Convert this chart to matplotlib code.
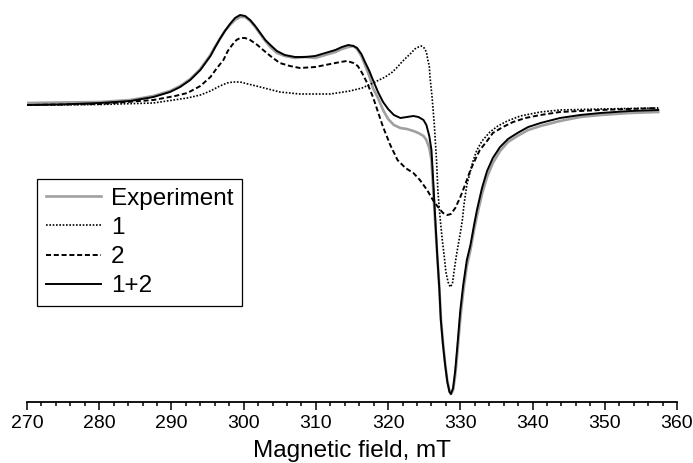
import matplotlib
matplotlib.use('Agg')
import matplotlib.pyplot as plt
from matplotlib.ticker import MultipleLocator

plt.rcParams['font.family'] = ['Liberation Sans', 'DejaVu Sans']

# Magnetic field (mT) and signal (arbitrary units)
field_fit = [270.0, 274.6, 280.1, 284.3, 287.5, 289.8, 291.2, 292.6, 294.0, 294.7,
             295.4, 296.0, 296.7, 297.4, 298.1, 298.8, 299.5, 300.2, 300.9, 301.6,
             302.3, 303.0, 303.7, 304.6, 305.7, 307.1, 308.5, 309.9, 311.3, 312.7,
             313.6, 314.5, 315.2, 315.7, 316.3, 316.8, 317.4, 317.9, 318.6, 319.3,
             320.0, 320.8, 321.7, 322.6, 323.5, 324.2, 324.9, 325.3, 325.7, 326.0,
             326.2, 326.5, 326.8, 327.1, 327.3, 327.6, 327.9, 328.2, 328.5, 328.7,
             329.0, 329.3, 329.6, 330.0, 330.4, 330.9, 331.4, 331.9, 332.3, 333.0,
             333.7, 334.5, 335.5, 336.6, 337.9, 339.4, 341.1, 343.8, 346.6, 349.4,
             353.5, 357.4]
fit_sum = [-1, -0.5, 1, 3, 7, 12, 17, 24, 34, 41,
           48, 56, 65, 73, 80, 86, 89, 88, 84, 78,
           71, 64, 59, 53, 49, 47, 47, 48, 51, 54,
           57, 59, 58, 56, 50, 42, 33, 24, 12, 2,
           -5, -11, -14, -13, -12, -13, -16, -21, -32, -46,
           -71, -111, -151, -186, -216, -241, -261, -278, -288, -290,
           -284, -266, -241, -206, -181, -156, -141, -121, -106, -84,
           -67, -54, -43, -35, -29, -23, -19, -14, -11, -9,
           -7, -6]

field_exp = [270.0, 274.6, 280.1, 284.3, 287.5, 289.8, 291.2, 292.6, 294.0, 294.7,
             295.4, 296.0, 296.7, 297.4, 298.1, 298.8, 299.5, 300.2, 300.9, 301.6,
             302.3, 303.0, 303.7, 304.6, 305.7, 307.1, 308.5, 309.9, 311.3, 312.7,
             313.6, 314.5, 315.2, 315.7, 316.3, 316.8, 317.4, 317.9, 318.6, 319.3,
             320.0, 320.8, 321.7, 322.6, 323.5, 324.2, 324.9, 325.3, 325.7, 326.0,
             326.2, 326.5, 326.8, 327.1, 327.3, 327.6, 327.9, 328.2, 328.5, 328.7,
             329.0, 329.3, 329.6, 330.0, 330.4, 330.9, 331.4, 331.9, 332.3, 333.0,
             333.7, 334.5, 335.5, 336.6, 337.9, 339.4, 341.1, 343.8, 346.6, 349.4,
             353.5, 357.4]
exp_signal = [1, 1.5, 2, 4, 8, 13, 18, 25, 35, 42,
              49, 57, 65, 73, 79, 84, 87, 87, 83, 77,
              70, 63, 57, 51, 48, 46, 47, 46, 49, 52,
              55, 57, 58, 55, 48, 39, 28, 16, 6, -6,
              -15, -21, -24, -25, -27, -29, -32, -36, -44, -56,
              -81, -116, -151, -184, -214, -239, -260, -277, -287, -290,
              -286, -271, -248, -214, -188, -162, -146, -126, -112, -90,
              -73, -59, -47, -38, -32, -26, -22, -17, -13, -11,
              -9, -8]

field_1 = [270.0, 280.1, 287.5, 292.2, 294.0, 295.4, 296.7, 297.7, 298.5, 299.5,
           300.6, 302.3, 305.0, 307.8, 312.0, 314.7, 316.4, 317.9, 319.6, 320.6,
           321.3, 321.9, 322.6, 323.2, 323.7, 324.2, 324.6, 325.0, 325.3, 325.5,
           325.7, 325.8, 326.1, 326.4, 326.7, 326.9, 327.2, 327.5, 327.8, 328.0,
           328.3, 328.6, 328.9, 329.1, 329.4, 329.7, 330.0, 330.3, 330.5, 330.9,
           331.4, 331.8, 332.3, 333.0, 334.1, 335.2, 336.5, 338.3, 341.1, 343.8,
           349.4, 357.4]
signal_1 = [-1, -0.5, 1, 6, 9, 13, 18, 21, 22, 22,
            20, 17, 12, 10, 10, 13, 16, 21, 27, 32,
            37, 42, 47, 51, 55, 57, 58, 56, 52, 44,
            38, 27, 6, -21, -56, -88, -114, -136, -154, -168,
            -178, -183, -180, -169, -154, -141, -129, -115, -101, -81,
            -67, -56, -46, -37, -28, -22, -17, -12, -8, -6,
            -5, -4]

field_2 = [270.0, 280.1, 287.5, 290.5, 292.2, 294.0, 295.4, 296.3, 297.2, 297.8,
           298.4, 299.0, 299.5, 300.2, 300.9, 301.9, 302.7, 303.7, 305.0, 306.4,
           307.8, 309.9, 312.0, 313.4, 314.3, 315.2, 315.8, 316.4, 317.1, 317.9,
           318.6, 319.3, 320.3, 321.3, 322.4, 323.5, 324.4, 325.4, 326.2, 326.9,
           327.6, 328.2, 328.7, 329.3, 330.0, 330.7, 331.4, 332.1, 332.7, 333.7,
           334.5, 335.9, 337.3, 339.0, 341.1, 343.8, 349.4, 357.4]
signal_2 = [-1, 0, 4, 8, 11, 18, 27, 36, 44, 53,
            59, 64, 66, 66, 64, 59, 54, 48, 41, 38,
            36, 37, 40, 42, 43, 41, 38, 31, 21, 7,
            -8, -23, -41, -56, -64, -69, -76, -86, -96, -103,
            -109, -111, -110, -104, -93, -80, -66, -55, -46, -37,
            -29, -23, -18, -14, -11, -8, -6, -4]

fig = plt.figure(figsize=(6.93, 4.63), dpi=100)
ax = fig.add_axes([27 / 693, 61 / 463, 650 / 693, 402 / 463])

ax.plot(field_exp, exp_signal, color='#a0a0a0', lw=1.9, label='Experiment')
ax.plot(field_1, signal_1, color='black', lw=1.2, dashes=(1, 1.0), label='1')
ax.plot(field_2, signal_2, color='black', lw=1.4, dashes=(2.6, 1.4), label='2')
ax.plot(field_fit, fit_sum, color='black', lw=1.4, label='1+2')

ax.set_xlim(270, 360)
ax.set_ylim(-298, 104)
for s in ['top', 'left', 'right']:
    ax.spines[s].set_visible(False)
ax.spines['bottom'].set_linewidth(1.3)
ax.set_yticks([])
ax.xaxis.set_major_locator(MultipleLocator(10))
ax.xaxis.set_minor_locator(MultipleLocator(2))
ax.tick_params(axis='x', which='major', length=6, width=1.1, labelsize=14, pad=3)
ax.tick_params(axis='x', which='minor', length=3, width=1.1)
ax.set_xlabel('Magnetic field, mT', fontsize=17.5, labelpad=6)

leg = ax.legend(loc='upper left', bbox_to_anchor=(37 / 693, 1 - 179 / 463),
                bbox_transform=fig.transFigure, fontsize=17.5, fancybox=False,
                edgecolor='black', framealpha=1, handlelength=2.3,
                labelspacing=0.3, borderpad=0.35, handletextpad=0.4, borderaxespad=0)
leg.get_frame().set_linewidth(0.9)

fig.savefig('out.png', dpi=100)
